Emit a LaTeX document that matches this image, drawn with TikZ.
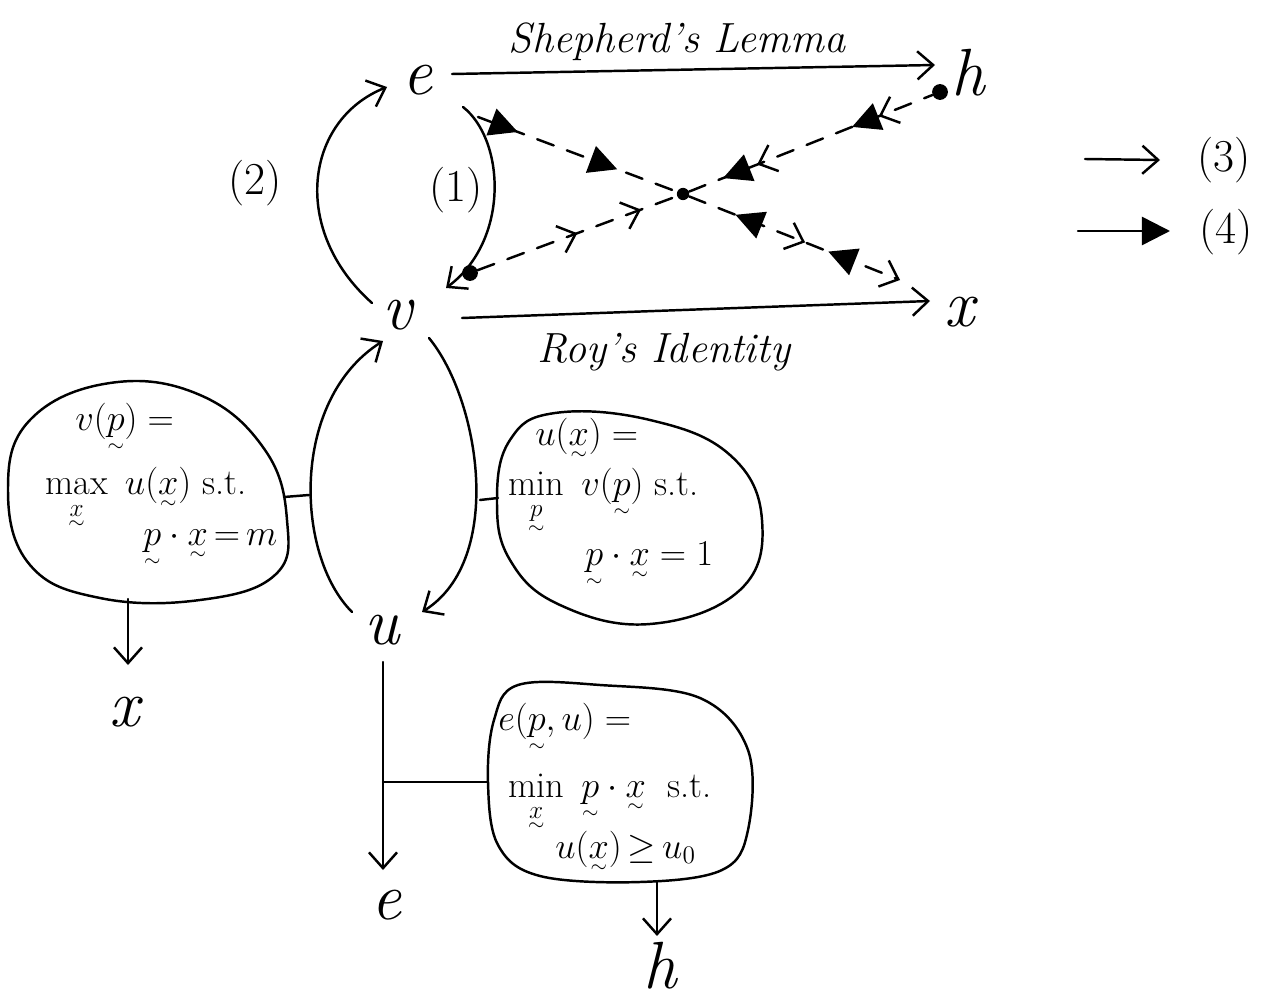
\documentclass[tikz,border=0pt]{standalone}
\usepackage{amsmath,amssymb}
\usepackage{fontspec}
\usetikzlibrary{arrows.meta,decorations.markings}
\newcommand{\vt}[1]{\mathord{\vtop{\offinterlineskip\ialign{\hfil##\hfil\cr$#1$\cr\noalign{\kern4pt}$\scriptscriptstyle\sim$\cr}}}}
\newcommand{\vts}[1]{\mathord{\vtop{\offinterlineskip\ialign{\hfil##\hfil\cr$\scriptstyle#1$\cr\noalign{\kern2.5pt}$\scriptscriptstyle\sim$\cr}}}}
\begin{document}
\begin{tikzpicture}[x=0.02cm,y=-0.02cm,
  ink/.style={line width=1.4pt, line cap=round, line join=round},
  opentip/.style={-{Straight Barb[length=9pt,width=16pt,line width=1.4pt]}},
  filltip/.style={-{Triangle[length=16pt,width=16pt]}},
  dsh/.style={ink, dash pattern=on 10pt off 8pt},
  big/.style={font=\fontsize{38}{40}\selectfont\itshape, inner sep=0pt},
  lbl/.style={font=\fontsize{24}{28}\selectfont\itshape, inner sep=0pt},
  num/.style={font=\fontsize{26}{30}\selectfont, inner sep=0pt},
  bub/.style={font=\fontsize{20.74}{24}\selectfont, inner sep=0pt, anchor=base west},
  dot/.style={circle, fill=black, inner sep=0pt, minimum size=9pt},
  cdot/.style={circle, fill=black, inner sep=0pt, minimum size=7pt}
]
\useasboundingbox (0,0) rectangle (1268,1000);

% main letters
\node[big] (e) at (418,80) {e};
\node[big] (h) at (968,73) {h};
\node[big] (v) at (398,315) {v};
\node[big] (x) at (960,312) {x};
\node[big] (u) at (382,630) {u};
\node[big] (xb) at (125,712) {x};
\node[big] (eb) at (387,905) {e};
\node[big] (hb) at (660,966) {h};

% labels
\node[lbl] (shep) at (677,42) {Shepherd's Lemma};
\node[lbl] (roy) at (664,352) {Roy's Identity};
\node[num] (n2) at (255,183) {(2)};
\node[num] (n1) at (456,190) {(1)};

% top arrows
\coordinate (ehS) at (452,74);
\coordinate (ehE) at (935,65);
\draw[ink, opentip] (ehS) -- (ehE);
\coordinate (vxS) at (462,318);
\coordinate (vxE) at (930,301);
\draw[ink, opentip] (vxS) -- (vxE);

% curves e <-> v
\coordinate (c2S) at (372,303);
\coordinate (c2E) at (387,87);
\draw[ink, opentip] (c2S) .. controls (290,230) and (305,120) .. (c2E);
\coordinate (c1S) at (463,107);
\coordinate (c1E) at (446,288);
\draw[ink, opentip] (c1S) .. controls (505,140) and (510,240) .. (c1E);

% curves v <-> u
\coordinate (luS) at (352,612);
\coordinate (luE) at (383,341);
\draw[ink, opentip] (luS) .. controls (295,555) and (290,400) .. (luE);
\coordinate (ruS) at (429,338);
\coordinate (ruE) at (422,612);
\draw[ink, opentip] (ruS) .. controls (480,400) and (505,560) .. (ruE);

% dashed cross
\node[cdot] (c) at (683,194) {};
\coordinate (eS) at (478,117);
\node[dot] (vS) at (470,273) {};
\node[dot] (hS) at (940,92) {};
\coordinate (xS) at (900,280);

\draw[dsh, postaction={solid, decorate}, decoration={markings,
  mark=at position 0.2 with {\arrow{Triangle[length=16pt,width=16pt]}},
  mark=at position 0.7 with {\arrow{Triangle[length=16pt,width=16pt]}}}]
  (eS) -- (c);
\draw[dsh, opentip, postaction={solid, decorate}, decoration={markings,
  mark=at position 0.22 with {\arrowreversed{Triangle[length=16pt,width=16pt]}},
  mark=at position 0.55 with {\arrow{Straight Barb[length=9pt,width=16pt,line width=1.4pt]}},
  mark=at position 0.66 with {\arrowreversed{Triangle[length=16pt,width=16pt]}}}]
  (c) -- (xS);
\draw[dsh, postaction={solid, decorate}, decoration={markings,
  mark=at position 0.5 with {\arrow{Straight Barb[length=9pt,width=16pt,line width=1.4pt]}},
  mark=at position 0.82 with {\arrow{Straight Barb[length=9pt,width=16pt,line width=1.4pt]}}}]
  (vS) -- (c);
\draw[dsh, postaction={solid, decorate}, decoration={markings,
  mark=at position 0.14 with {\arrowreversed{Triangle[length=16pt,width=16pt]}},
  mark=at position 0.28 with {\arrowreversed{Straight Barb[length=9pt,width=16pt,line width=1.4pt]}},
  mark=at position 0.67 with {\arrowreversed{Triangle[length=16pt,width=16pt]}},
  mark=at position 0.78 with {\arrowreversed{Straight Barb[length=9pt,width=16pt,line width=1.4pt]}}}]
  (c) -- (hS);

% legend
\coordinate (l3S) at (1085,159);
\coordinate (l3E) at (1160,160);
\draw[ink, opentip] (l3S) -- (l3E);
\node[num] (t3) at (1224,160) {(3)};
\coordinate (l4S) at (1078,231);
\coordinate (l4E) at (1170,231);
\draw[ink, filltip] (l4S) -- (l4E);
\node[num] (t4) at (1226,232) {(4)};

% left bubble
\draw[ink] plot[smooth cycle, tension=0.7] coordinates {(8,490) (30,420) (110,383) (200,395) (265,450) (287,520) (275,575) (200,600) (100,598) (30,565)};
\node[bub] (lb1) at (75,430) {$v(\vt p) =$};
\node[bub] (lb2) at (45,494) {$\max\limits_{\vts x}\ u(\vt x)$ s.t.};
\node[bub] (lb4) at (143,545) {$\vt p\cdot \vt x\,{=}\,m$};
\coordinate (lbR) at (284,497);
\coordinate (lcL) at (309,495);
\draw[ink] (lbR) -- (lcL);
\coordinate (lbB) at (128,599);
\coordinate (lbA) at (128,665);
\draw[ink, opentip] (lbB) -- (lbA);

% right bubble
\draw[ink] plot[smooth cycle, tension=0.7] coordinates {(497,500) (510,440) (555,413) (650,420) (730,455) (762,520) (740,590) (650,624) (560,605) (510,560)};
\node[bub] (rb1) at (535,445) {$u(\vt x) =$};
\node[bub] (rb2) at (508,495) {$\min\limits_{\vts p}\ v(\vt p)$ s.t.};
\node[bub] (rb4) at (585,565) {$\vt p\cdot \vt x = 1$};
\coordinate (rcR) at (480,500);
\coordinate (rbL) at (498,498);
\draw[ink] (rcR) -- (rbL);

% u down to e
\coordinate (uS) at (383,662);
\coordinate (uE) at (383,870);
\draw[ink, opentip] (uS) -- (uE);
\coordinate (uM) at (383,782);
\coordinate (b3L) at (488,782);
\draw[ink] (uM) -- (b3L);

% bottom bubble
\draw[ink] plot[smooth cycle, tension=0.6] coordinates {(488,782) (494,720) (518,685) (600,685) (700,698) (748,750) (748,830) (722,870) (640,882) (540,876) (498,845)};
\node[bub] (bb1) at (498,730) {$e(\vt p,u) =$};
\node[bub] (bb2) at (508,797) {$\min\limits_{\vts x}\ \vt p\cdot\vt x$\ \ s.t.};
\node[bub] (bb4) at (555,858) {$u(\vt x)\,{\geq}\,u_0$};
\coordinate (bbB) at (657,882);
\coordinate (bbA) at (657,936);
\draw[ink, opentip] (bbB) -- (bbA);
\end{tikzpicture}
\end{document}
